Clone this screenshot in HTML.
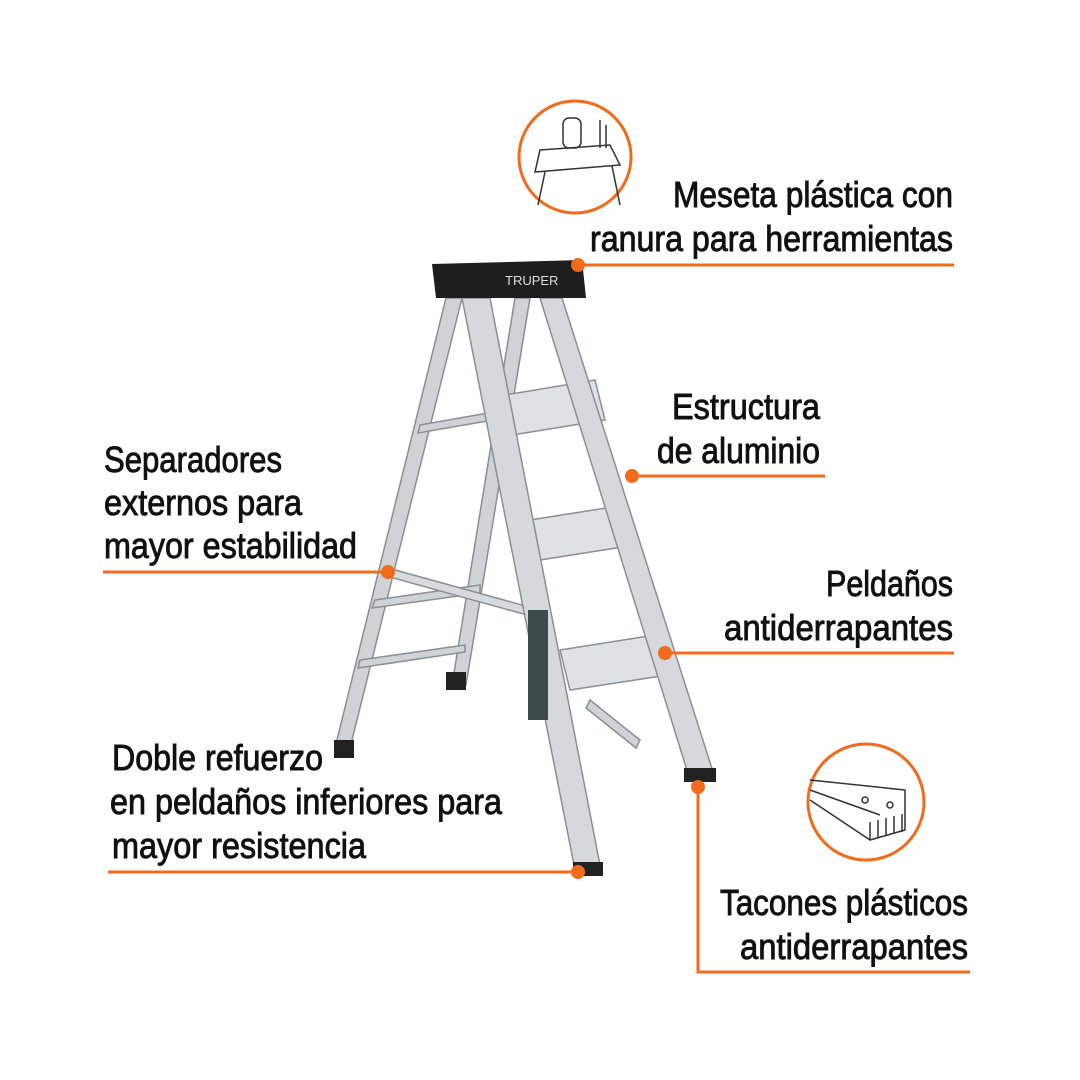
<!DOCTYPE html>
<html><head><meta charset="utf-8"><style>
html,body{margin:0;padding:0;background:#fff;}
svg{display:block;}
text{font-family:"Liberation Sans Narrow","Liberation Sans",sans-serif;font-size:36px;fill:#111;stroke:#111;stroke-width:0.9px;}
</style></head><body>
<svg width="1080" height="1080" viewBox="0 0 1080 1080" xmlns="http://www.w3.org/2000/svg">
<rect width="1080" height="1080" fill="#fff"/>
<g stroke="#8a8f94" stroke-width="1.5" fill="#cfd3d6">
  <polygon points="446,298 462,298 350,748 335,748"/>
  <polygon points="515,298 530,298 466,685 452,685"/>
  <polygon points="420,425 505,410 505,418 418,433" />
  <polygon points="375,600 480,585 480,593 372,608"/>
  <polygon points="360,660 465,645 465,652 358,668"/>
  <polygon points="388,568 540,610 538,618 386,576" fill="#d8dbde"/>
  <polygon points="505,395 595,380 605,420 512,435" fill="#dfe2e4"/>
  <polygon points="530,520 625,505 635,545 540,560" fill="#dfe2e4"/>
  <polygon points="560,650 655,635 668,675 570,690" fill="#dfe2e4"/>
  <polygon points="462,298 490,298 600,865 575,870" fill="#d6d9dc"/>
  <polygon points="540,298 562,298 715,778 690,780" fill="#d6d9dc"/>
  <polygon points="590,700 640,740 636,748 586,708"/>
</g>
<rect x="528" y="610" width="20" height="110" fill="#3d4a4c"/>
<rect x="446" y="672" width="20" height="18" fill="#222"/>
<rect x="334" y="740" width="20" height="18" fill="#222"/>
<rect x="573" y="862" width="30" height="14" fill="#222"/>
<rect x="684" y="768" width="32" height="14" fill="#222"/>
<polygon points="432,264 582,260 586,298 436,298" fill="#1e1e1e"/>
<text x="505" y="285" style="font-size:13px;fill:#ddd;stroke:none">TRUPER</text>
<g stroke="#f26b1d" stroke-width="3" fill="none">
  <circle cx="575" cy="157" r="56"/>
  <circle cx="866" cy="802" r="58"/>
  <line x1="578" y1="265" x2="954" y2="265"/>
  <line x1="632" y1="476" x2="825" y2="476"/>
  <line x1="103" y1="572" x2="388" y2="572"/>
  <line x1="665" y1="653" x2="954" y2="653"/>
  <line x1="108" y1="872" x2="578" y2="872"/>
  <polyline points="698,787 698,972 970,972"/>
</g>
<g fill="#f26b1d">
  <circle cx="578" cy="265" r="7"/>
  <circle cx="632" cy="476" r="7"/>
  <circle cx="388" cy="572" r="7"/>
  <circle cx="665" cy="653" r="7"/>
  <circle cx="578" cy="872" r="7"/>
  <circle cx="698" cy="787" r="7"/>
</g>
<g stroke="#333" stroke-width="1.5" fill="none">
  <polygon points="540,150 610,145 620,165 535,172"/>
  <line x1="545" y1="172" x2="538" y2="205"/><line x1="612" y1="166" x2="620" y2="205"/>
  <rect x="563" y="118" width="18" height="30" rx="6"/>
  <line x1="600" y1="120" x2="600" y2="148"/><line x1="606" y1="125" x2="606" y2="148"/>
  <polyline points="810,780 905,790 905,830 870,840 810,800"/>
  <line x1="810" y1="790" x2="880" y2="815"/>
  <circle cx="865" cy="800" r="3"/><circle cx="890" cy="805" r="3"/>
  <path d="M870,840 v-18 M878,838 v-18 M886,836 v-18 M894,834 v-18 M902,832 v-18"/>
</g>
<text x="953" y="207" text-anchor="end" textLength="280" lengthAdjust="spacingAndGlyphs">Meseta plástica con</text>
<text x="953" y="251" text-anchor="end" textLength="363" lengthAdjust="spacingAndGlyphs">ranura para herramientas</text>
<text x="820" y="419" text-anchor="end" textLength="148" lengthAdjust="spacingAndGlyphs">Estructura</text>
<text x="820" y="463" text-anchor="end" textLength="163" lengthAdjust="spacingAndGlyphs">de aluminio</text>
<text x="104" y="472" textLength="178" lengthAdjust="spacingAndGlyphs">Separadores</text>
<text x="104" y="515" textLength="198" lengthAdjust="spacingAndGlyphs">externos para</text>
<text x="104" y="558" textLength="253" lengthAdjust="spacingAndGlyphs">mayor estabilidad</text>
<text x="953" y="596" text-anchor="end" textLength="127" lengthAdjust="spacingAndGlyphs">Peldaños</text>
<text x="953" y="640" text-anchor="end" textLength="229" lengthAdjust="spacingAndGlyphs">antiderrapantes</text>
<text x="112" y="770" textLength="211" lengthAdjust="spacingAndGlyphs">Doble refuerzo</text>
<text x="110" y="814" textLength="392" lengthAdjust="spacingAndGlyphs">en peldaños inferiores para</text>
<text x="112" y="858" textLength="254" lengthAdjust="spacingAndGlyphs">mayor resistencia</text>
<text x="968" y="915" text-anchor="end" textLength="248" lengthAdjust="spacingAndGlyphs">Tacones plásticos</text>
<text x="968" y="959" text-anchor="end" textLength="228" lengthAdjust="spacingAndGlyphs">antiderrapantes</text>
</svg>
</body></html>
